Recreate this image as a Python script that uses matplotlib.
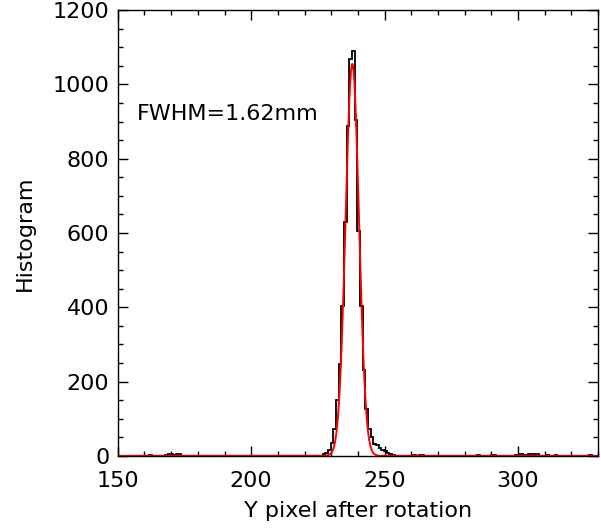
import numpy as np
import matplotlib
matplotlib.use('Agg')
import matplotlib.pyplot as plt
from matplotlib.ticker import MultipleLocator

# histogram counts around the peak, bins of 1 pixel starting at peak_start
peak_start = 226.75
peak_counts = [5, 8, 16, 35, 72, 151, 246, 404, 629, 887, 1067, 1090, 905,
               606, 404, 230, 125, 72, 50, 32, 28, 22, 15, 13, 8, 6, 3]

# scattered small counts far from the peak (bin left edge, count)
noise_edges = [161.75, 167.75, 168.75, 169.75, 170.75, 171.75, 172.75,
               260.75, 262.75, 263.75, 284.75, 289.75, 290.75, 298.75,
               300.75, 302.75, 303.75, 305.75, 306.75, 310.75, 313.75, 326.75]
noise_counts = [2, 3, 4, 5, 3, 5, 4,
                2, 2, 1, 2, 2, 3, 2,
                4, 3, 5, 4, 5, 2, 3, 2]

# gaussian fit
fit_amp = 1055
fit_mu = 237.9
fit_fwhm_pix = 5.9
fwhm_text = 'FWHM=1.62mm'

edges = np.arange(149.75, 331.0, 1.0)
counts = np.zeros(len(edges) - 1)
for e, c in zip(noise_edges, noise_counts):
    counts[int(round(e - edges[0]))] = c
i0 = int(round(peak_start - edges[0]))
counts[i0:i0 + len(peak_counts)] = peak_counts

sigma = fit_fwhm_pix / (2 * np.sqrt(2 * np.log(2)))
xf = np.linspace(150, 330, 3000)
yf = fit_amp * np.exp(-(xf - fit_mu) ** 2 / (2 * sigma ** 2))

fig = plt.figure(figsize=(6.01, 5.30), dpi=100)
ax = fig.add_axes([0.196, 0.14, 0.799, 0.841])

ax.stairs(counts, edges, color='black', lw=1.3, baseline=None)
ax.plot(xf, yf, color='red', lw=1.4)

ax.set_xlim(150, 330)
ax.set_ylim(0, 1200)
ax.xaxis.set_major_locator(MultipleLocator(50))
ax.xaxis.set_minor_locator(MultipleLocator(10))
ax.yaxis.set_major_locator(MultipleLocator(200))
ax.yaxis.set_minor_locator(MultipleLocator(50))
ax.tick_params(which='both', direction='in', top=True, right=True,
               labelsize=16, width=1)
ax.tick_params(which='major', length=7)
ax.tick_params(which='minor', length=3.5)
ax.tick_params(axis='x', which='major', pad=11)
ax.tick_params(axis='y', which='major', pad=6)
for s in ax.spines.values():
    s.set_linewidth(1)

ax.set_xlabel('Y pixel after rotation', fontsize=16, labelpad=7)
ax.set_ylabel('Histogram', fontsize=16, labelpad=13)
ax.text(157, 920, fwhm_text, fontsize=16, ha='left', va='center')

plt.savefig('out.png', dpi=100)
